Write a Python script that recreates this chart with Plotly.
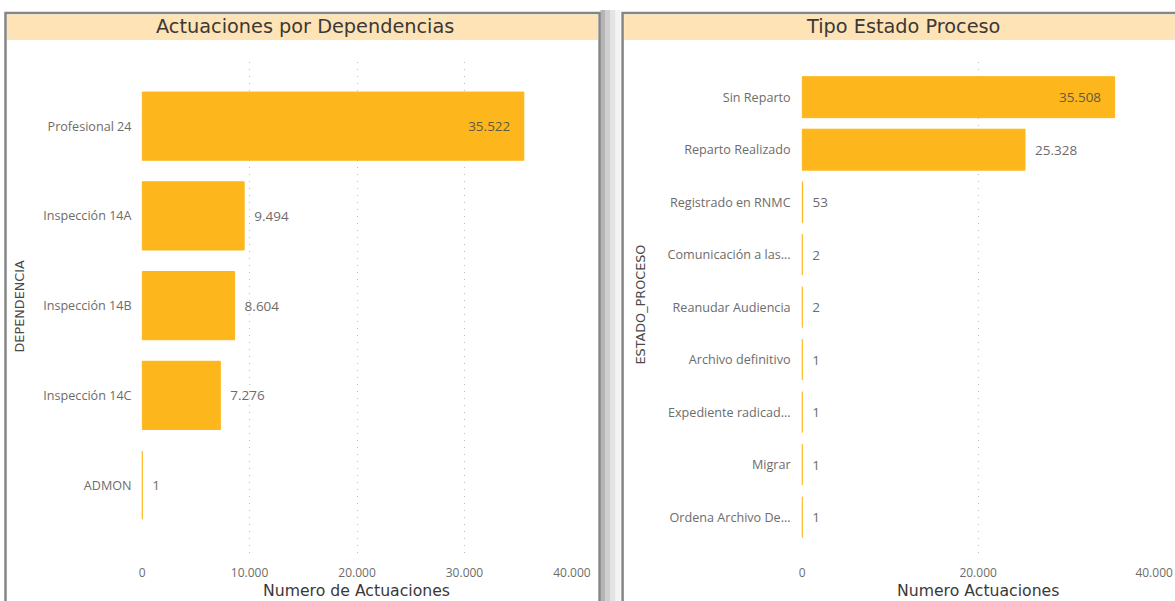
import plotly.graph_objects as go

# ---------------- data ----------------
dep_categories = ["Profesional 24", "Inspección 14A", "Inspección 14B", "Inspección 14C", "ADMON"]
dep_values = [35522, 9494, 8604, 7276, 1]

estado_categories = ["Sin Reparto", "Reparto Realizado", "Registrado en RNMC", "Comunicación a las...",
                     "Reanudar Audiencia", "Archivo definitivo", "Expediente radicad...", "Migrar",
                     "Ordena Archivo De..."]
estado_values = [35508, 25328, 53, 2, 2, 1, 1, 1, 1]

left_ticks = [0, 10000, 20000, 30000, 40000]
right_ticks = [0, 20000, 40000]

# ---------------- style ----------------
W, H = 1175, 601
BAR = "#FDB61C"
LABEL = "#6E6C6A"
TITLE = "#3A3937"
GRID = "#BBBBBB"
NB = "\u00a0"
CAT_FONT = dict(family="Open Sans", size=12.6, color=LABEL)
VAL_FONT = dict(family="Open Sans", size=13.5, color=LABEL)


def px(x):
    # horizontal position in paper units (compensated for the renderer's horizontal mapping)
    return ((x - 3.5) / 0.982) / W


def py(y):
    return 1 - y / H


fig = go.Figure()

for vals, cats, xa, ya, w in [(dep_values, dep_categories, "x", "y", 0.76),
                              (estado_values, estado_categories, "x2", "y2", 0.78)]:
    fig.add_trace(go.Bar(
        x=vals, y=cats, orientation="h",
        marker=dict(color=BAR, line=dict(color=BAR, width=1)),
        width=w,
        textposition=["inside"] + ["outside"] * (len(vals) - 1),
        texttemplate=["%{x:,}" + NB * 3] + [NB * 2 + "%{x:,}"] * (len(vals) - 1),
        insidetextanchor="end",
        textfont=VAL_FONT,
        insidetextfont=dict(family="Open Sans", size=13.5, color="#5E5A46"),
        outsidetextfont=VAL_FONT,
        cliponaxis=False, xaxis=xa, yaxis=ya, hoverinfo="skip",
    ))

axis_common = dict(
    showgrid=True, gridcolor=GRID, griddash="1px,6px", gridwidth=1,
    zeroline=False, showline=False,
    tickfont=dict(family="Open Sans", size=12, color=LABEL),
    tickformat=",d", ticklabelstandoff=8,
    range=[-60, 40060], fixedrange=True,
)

ydom = [py(556), py(62)]

fig.update_layout(
    width=W, height=H, autosize=False,
    margin=dict(l=0, r=0, t=0, b=0),
    paper_bgcolor="white", plot_bgcolor="rgba(0,0,0,0)",
    separators=",.",
    showlegend=False,
    xaxis=dict(domain=[px(142), px(573)], anchor="y", tickvals=left_ticks, **axis_common),
    yaxis=dict(domain=ydom, anchor="x", type="category", categoryarray=dep_categories,
               range=[4.79, -0.715], showgrid=False, zeroline=False, showline=False,
               tickfont=CAT_FONT, ticklabelstandoff=9, fixedrange=True),
    xaxis2=dict(domain=[px(802), px(1155)], anchor="y2", tickvals=right_ticks, **axis_common),
    yaxis2=dict(domain=ydom, anchor="x2", type="category", categoryarray=estado_categories,
                range=[8.74, -0.67], showgrid=False, zeroline=False, showline=False,
                tickfont=CAT_FONT, ticklabelstandoff=10, fixedrange=True),
)

shapes = []
# shadow between panels
for x0, x1, c in [(601, 606, "#B5B5B5"), (606, 611, "#CFCFCF"), (611, 616, "#E4E4E4"), (616, 621, "#F3F3F3")]:
    shapes.append(dict(type="rect", xref="paper", yref="paper", x0=px(x0), x1=px(x1), y0=0, y1=py(10),
                       fillcolor=c, line=dict(width=0), layer="below"))
# panels
for x0, x1 in [(6, 600), (623, 1200)]:
    shapes.append(dict(type="rect", xref="paper", yref="paper", x0=px(x0), x1=px(x1), y0=py(610), y1=py(13),
                       fillcolor="white", line=dict(color="#858585", width=2.5), layer="below"))
    shapes.append(dict(type="rect", xref="paper", yref="paper", x0=px(x0 + 1.5), x1=px(x1 - 1.5),
                       y0=py(40), y1=py(14.5),
                       fillcolor="#FEE3B6", line=dict(width=0), layer="below"))
fig.update_layout(shapes=shapes)


def ann(text, x, y, font, angle=0):
    return dict(text=text, x=px(x), y=py(y), xref="paper", yref="paper", textangle=angle,
                showarrow=False, xanchor="center", yanchor="middle", font=font)


TFONT = dict(family="DejaVu Sans", size=19.3, color=TITLE)
AFONT = dict(family="DejaVu Sans", size=15.7, color=TITLE)
YFONT = dict(family="DejaVu Sans", size=12.8, color="#4A4947")

fig.update_layout(annotations=[
    ann("Actuaciones por Dependencias", 305, 27, TFONT),
    ann("Tipo Estado Proceso", 903, 27, TFONT),
    ann("Numero de Actuaciones", 357, 590, AFONT),
    ann("Numero Actuaciones", 978, 590, AFONT),
    ann("DEPENDENCIA", 19, 306, YFONT, -90),
    ann("ESTADO_PROCESO", 640, 305, YFONT, -90),
])

fig.write_html("out.html", config={"displayModeBar": False},
               post_script="document.body.style.margin='0';document.body.style.overflow='hidden';")
